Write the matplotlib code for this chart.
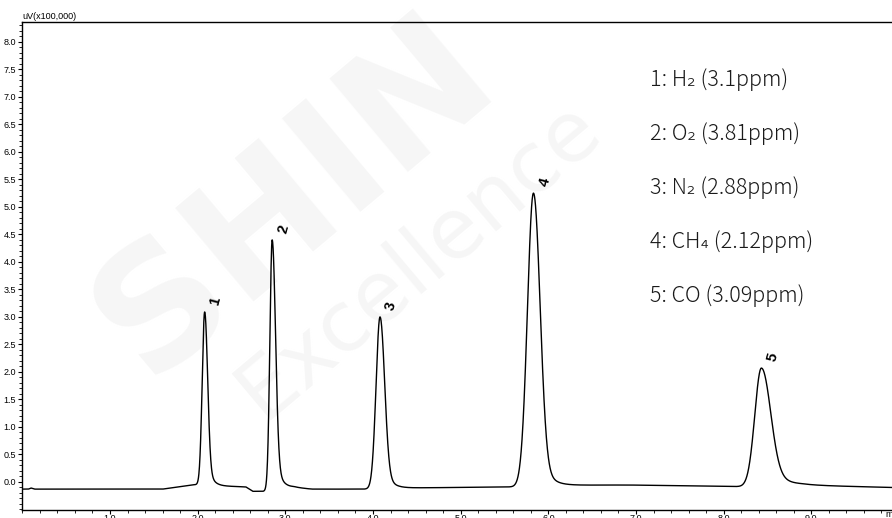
import numpy as np
import matplotlib
matplotlib.use("Agg")
import matplotlib.pyplot as plt
from matplotlib.ticker import MultipleLocator

# peak table (minutes, x100,000 uV)
peak_ids = ["1", "2", "3", "4", "5"]
peak_rt = [2.08, 2.85, 4.08, 5.83, 8.43]
peak_apex = [3.09, 4.40, 3.00, 5.25, 2.07]
peak_sig_left = [0.028, 0.026, 0.045, 0.068, 0.075]
peak_sig_right = [0.032, 0.036, 0.05, 0.072, 0.10]
peak_tail = [0.05, 0.06, 0.07, 0.09, 0.16]

# baseline drift
base_t = [0.0, 0.07, 0.10, 0.14, 1.60, 1.95, 2.0, 2.2, 2.55, 2.63, 2.75, 3.1,
          3.3, 3.9, 4.3, 5.6, 6.1, 6.9, 8.2, 8.9, 9.92]
base_y = [-0.13, -0.13, -0.11, -0.13, -0.13, -0.05, -0.05, -0.07, -0.09, -0.17,
          -0.17, -0.10, -0.13, -0.13, -0.11, -0.09, -0.06, -0.055, -0.085, -0.06, -0.10]

y_ticks = np.arange(0, 8.01, 0.5)
x_ticks = np.arange(1, 10)

legend_lines = ["1: H\u2082 (3.1ppm)", "2: O\u2082 (3.81ppm)", "3: N\u2082 (2.88ppm)",
                "4: CH\u2084 (2.12ppm)", "5: CO (3.09ppm)"]

t = np.linspace(0, 9.92, 6000)
base = np.interp(t, base_t, base_y)
signal = base.copy()
for rt, apex, sl, sr, tau in zip(peak_rt, peak_apex, peak_sig_left, peak_sig_right, peak_tail):
    h = apex - np.interp(rt, base_t, base_y)
    d = t - rt
    core = np.where(d < 0, np.exp(-0.5 * (d / sl) ** 2), np.exp(-0.5 * (d / sr) ** 2))
    tail = np.where(d > 0, np.exp(-d / tau) * (1 - np.exp(-0.5 * (d / sr) ** 2)), 0.0)
    signal += h * (core + 0.25 * tail)

fig = plt.figure(figsize=(8.92, 5.18), dpi=100)
ax = fig.add_axes([0.025, 0.0154, 0.975, 0.9421])

# faint watermark behind the trace
wm = dict(color="#f6f6f6", ha="center", va="center", zorder=-5)
fig.text(0.33, 0.62, "SHIN", fontsize=120, fontweight="bold", rotation=40, **wm)
fig.text(0.47, 0.5, "Excellence", fontsize=60, rotation=40, **wm)

ax.patch.set_alpha(0)
ax.plot(t, signal, color="black", lw=1.0)

ax.set_xlim(0, 9.92)
ax.set_ylim(-0.51, 8.36)
ax.spines["right"].set_visible(False)
for s in ["left", "top", "bottom"]:
    ax.spines[s].set_linewidth(1.0)

ax.set_xticks(x_ticks, [f"{v:.1f}" for v in x_ticks], family="Liberation Sans", fontsize=6.5)
ax.set_yticks(y_ticks, [f"{v:.1f}" for v in y_ticks], family="Liberation Sans", fontsize=6.5)
ax.xaxis.set_minor_locator(MultipleLocator(0.2))
ax.yaxis.set_minor_locator(MultipleLocator(0.1))
ax.tick_params(which="major", length=3, width=0.8, pad=1.5)
ax.tick_params(which="minor", length=2, width=0.6)
ax.tick_params(axis="x", which="major", pad=0)
ax.text(9.85, -0.51, "min", fontsize=6.5, family="Liberation Sans",
        ha="left", va="top", transform=ax.transData)

ax.text(0.0, 1.003, "uV(x100,000)", transform=ax.transAxes, fontsize=6.5,
        family="Liberation Sans", ha="left", va="bottom")

for pid, rt, apex in zip(peak_ids, peak_rt, peak_apex):
    ax.annotate(pid, (rt, apex), xytext=(8, 4), textcoords="offset points",
                fontsize=10.5, fontweight="bold", family="Liberation Sans",
                rotation=75, ha="center", va="bottom")

for i, line in enumerate(legend_lines):
    fig.text(650 / 892, 1 - (80 + 54 * i) / 518, line, fontsize=15.5,
             family=["Noto Sans CJK JP", "DejaVu Sans"], fontweight="light",
             color="#1a1a1a", ha="left", va="center")

fig.savefig("out.png", dpi=100)
